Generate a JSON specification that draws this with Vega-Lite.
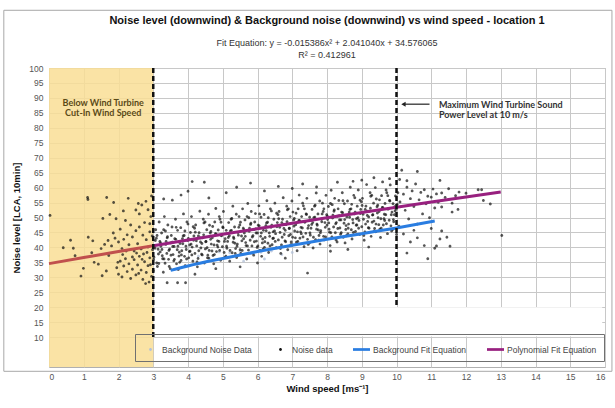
{
"$schema": "https://vega.github.io/schema/vega-lite/v6.json",
"width": 556, "height": 299,
"autosize": "none",
"padding": {"left": 49, "top": 68, "right": 10, "bottom": 41},
"background": "white",
"title": {"text": "Noise level (downwind) & Background noise (downwind) vs wind speed - location 1",
 "subtitle": ["Fit Equation: y = -0.015386x² + 2.041040x + 34.576065", "R² = 0.412961"],
 "anchor": "middle", "frame": "group", "font": "Liberation Sans", "fontSize": 11, "fontWeight": "bold", "color": "#111",
 "subtitleFont": "Liberation Sans", "subtitleFontSize": 9, "subtitleColor": "#333", "subtitleLineHeight": 12, "subtitlePadding": 13, "offset": -50},
"datasets": {
"noise": [
{"x":3.00,"y":32.2},{"x":3.04,"y":40.6},{"x":3.07,"y":45.9},{"x":3.02,"y":36.7},{"x":3.09,"y":43.1},
{"x":3.10,"y":34.8},{"x":3.14,"y":39.4},{"x":3.17,"y":48.5},{"x":3.12,"y":33.6},{"x":3.19,"y":42.0},
{"x":3.20,"y":38.5},{"x":3.24,"y":44.8},{"x":3.27,"y":36.2},{"x":3.22,"y":40.4},{"x":3.29,"y":31.7},
{"x":3.30,"y":45.9},{"x":3.34,"y":34.7},{"x":3.37,"y":42.0},{"x":3.32,"y":50.3},{"x":3.39,"y":38.0},
{"x":3.40,"y":43.2},{"x":3.44,"y":36.0},{"x":3.47,"y":39.4},{"x":3.42,"y":47.5},{"x":3.49,"y":32.9},
{"x":3.50,"y":41.5},{"x":3.54,"y":46.8},{"x":3.57,"y":37.6},{"x":3.52,"y":44.0},{"x":3.59,"y":35.5},
{"x":3.60,"y":40.3},{"x":3.64,"y":49.4},{"x":3.67,"y":34.5},{"x":3.62,"y":42.9},{"x":3.69,"y":39.2},
{"x":3.70,"y":45.7},{"x":3.74,"y":37.1},{"x":3.77,"y":41.3},{"x":3.72,"y":32.6},{"x":3.79,"y":46.6},
{"x":3.80,"y":35.6},{"x":3.84,"y":42.9},{"x":3.87,"y":51.2},{"x":3.82,"y":38.9},{"x":3.89,"y":44.0},
{"x":3.90,"y":37.0},{"x":3.94,"y":40.4},{"x":3.97,"y":48.5},{"x":3.92,"y":33.9},{"x":3.99,"y":42.3},
{"x":4.00,"y":47.8},{"x":4.04,"y":38.6},{"x":4.07,"y":45.0},{"x":4.02,"y":36.5},{"x":4.09,"y":41.1},
{"x":4.10,"y":50.3},{"x":4.14,"y":35.4},{"x":4.17,"y":43.8},{"x":4.12,"y":40.1},{"x":4.19,"y":46.4},
{"x":4.20,"y":38.0},{"x":4.24,"y":42.2},{"x":4.27,"y":33.5},{"x":4.22,"y":47.5},{"x":4.29,"y":36.3},
{"x":4.30,"y":43.8},{"x":4.34,"y":52.1},{"x":4.37,"y":39.8},{"x":4.32,"y":44.9},{"x":4.39,"y":37.7},
{"x":4.40,"y":41.3},{"x":4.44,"y":49.4},{"x":4.47,"y":34.8},{"x":4.42,"y":43.2},{"x":4.49,"y":48.5},
{"x":4.50,"y":39.5},{"x":4.54,"y":45.9},{"x":4.57,"y":37.4},{"x":4.52,"y":42.0},{"x":4.59,"y":51.1},
{"x":4.60,"y":36.4},{"x":4.64,"y":44.8},{"x":4.67,"y":41.1},{"x":4.62,"y":47.4},{"x":4.69,"y":38.8},
{"x":4.70,"y":43.2},{"x":4.74,"y":34.5},{"x":4.77,"y":48.5},{"x":4.72,"y":37.3},{"x":4.79,"y":44.6},
{"x":4.80,"y":53.0},{"x":4.84,"y":40.7},{"x":4.87,"y":45.8},{"x":4.82,"y":38.6},{"x":4.89,"y":42.0},
{"x":4.90,"y":50.3},{"x":4.94,"y":35.7},{"x":4.97,"y":44.1},{"x":4.92,"y":49.4},{"x":4.99,"y":40.2},
{"x":5.00,"y":46.8},{"x":5.04,"y":38.3},{"x":5.07,"y":42.9},{"x":5.02,"y":52.0},{"x":5.09,"y":37.1},
{"x":5.10,"y":45.7},{"x":5.14,"y":42.0},{"x":5.17,"y":48.3},{"x":5.12,"y":39.7},{"x":5.19,"y":43.9},
{"x":5.20,"y":35.4},{"x":5.24,"y":49.4},{"x":5.27,"y":38.2},{"x":5.22,"y":45.5},{"x":5.29,"y":53.8},
{"x":5.30,"y":41.7},{"x":5.34,"y":46.8},{"x":5.37,"y":39.6},{"x":5.32,"y":43.0},{"x":5.39,"y":51.1},
{"x":5.40,"y":36.6},{"x":5.44,"y":45.0},{"x":5.47,"y":50.3},{"x":5.42,"y":41.1},{"x":5.49,"y":47.5},
{"x":5.50,"y":39.2},{"x":5.54,"y":43.8},{"x":5.57,"y":52.9},{"x":5.52,"y":38.0},{"x":5.59,"y":46.4},
{"x":5.60,"y":42.9},{"x":5.64,"y":49.2},{"x":5.67,"y":40.6},{"x":5.62,"y":44.8},{"x":5.69,"y":36.1},
{"x":5.70,"y":50.3},{"x":5.74,"y":39.1},{"x":5.77,"y":46.4},{"x":5.72,"y":54.7},{"x":5.79,"y":42.4},
{"x":5.80,"y":47.7},{"x":5.84,"y":40.5},{"x":5.87,"y":43.9},{"x":5.82,"y":52.0},{"x":5.89,"y":37.4},
{"x":5.90,"y":46.0},{"x":5.94,"y":51.3},{"x":5.97,"y":42.1},{"x":5.92,"y":48.5},{"x":5.99,"y":40.0},
{"x":6.00,"y":44.8},{"x":6.04,"y":53.9},{"x":6.07,"y":39.0},{"x":6.02,"y":47.4},{"x":6.09,"y":43.7},
{"x":6.10,"y":50.1},{"x":6.14,"y":41.5},{"x":6.17,"y":45.7},{"x":6.12,"y":37.0},{"x":6.19,"y":51.0},
{"x":6.20,"y":40.0},{"x":6.24,"y":47.3},{"x":6.27,"y":55.6},{"x":6.22,"y":43.3},{"x":6.29,"y":48.4},
{"x":6.30,"y":41.4},{"x":6.34,"y":44.8},{"x":6.37,"y":52.9},{"x":6.32,"y":38.3},{"x":6.39,"y":46.7},
{"x":6.40,"y":52.2},{"x":6.44,"y":43.0},{"x":6.47,"y":49.4},{"x":6.42,"y":40.9},{"x":6.49,"y":45.5},
{"x":6.50,"y":54.8},{"x":6.54,"y":39.9},{"x":6.57,"y":48.3},{"x":6.52,"y":44.6},{"x":6.59,"y":50.9},
{"x":6.60,"y":42.5},{"x":6.64,"y":46.7},{"x":6.67,"y":38.0},{"x":6.62,"y":52.0},{"x":6.69,"y":40.8},
{"x":6.70,"y":48.3},{"x":6.74,"y":56.6},{"x":6.77,"y":44.3},{"x":6.72,"y":49.4},{"x":6.79,"y":42.2},
{"x":6.80,"y":45.7},{"x":6.84,"y":53.8},{"x":6.87,"y":39.2},{"x":6.82,"y":47.6},{"x":6.89,"y":52.9},
{"x":6.90,"y":43.9},{"x":6.94,"y":50.3},{"x":6.97,"y":41.8},{"x":6.92,"y":46.4},{"x":6.99,"y":55.5},
{"x":7.00,"y":40.8},{"x":7.04,"y":49.2},{"x":7.07,"y":45.5},{"x":7.02,"y":51.8},{"x":7.09,"y":43.2},
{"x":7.10,"y":47.6},{"x":7.14,"y":38.9},{"x":7.17,"y":52.9},{"x":7.12,"y":41.7},{"x":7.19,"y":49.0},
{"x":7.20,"y":57.5},{"x":7.24,"y":45.2},{"x":7.27,"y":50.3},{"x":7.22,"y":43.1},{"x":7.29,"y":46.5},
{"x":7.30,"y":54.8},{"x":7.34,"y":40.2},{"x":7.37,"y":48.6},{"x":7.32,"y":53.9},{"x":7.39,"y":44.7},
{"x":7.40,"y":51.2},{"x":7.44,"y":42.7},{"x":7.47,"y":47.3},{"x":7.42,"y":56.4},{"x":7.49,"y":41.5},
{"x":7.50,"y":50.1},{"x":7.54,"y":46.4},{"x":7.57,"y":52.7},{"x":7.52,"y":44.1},{"x":7.59,"y":48.3},
{"x":7.60,"y":39.8},{"x":7.64,"y":53.8},{"x":7.67,"y":42.6},{"x":7.62,"y":49.9},{"x":7.69,"y":58.2},
{"x":7.70,"y":46.1},{"x":7.74,"y":51.2},{"x":7.77,"y":44.0},{"x":7.72,"y":47.4},{"x":7.79,"y":55.5},
{"x":7.80,"y":41.1},{"x":7.84,"y":49.5},{"x":7.87,"y":54.8},{"x":7.82,"y":45.6},{"x":7.89,"y":52.0},
{"x":7.90,"y":43.7},{"x":7.94,"y":48.3},{"x":7.97,"y":57.4},{"x":7.92,"y":42.5},{"x":7.99,"y":50.9},
{"x":8.00,"y":47.4},{"x":8.04,"y":53.7},{"x":8.07,"y":45.1},{"x":8.02,"y":49.3},{"x":8.09,"y":40.6},
{"x":8.10,"y":54.7},{"x":8.14,"y":43.5},{"x":8.17,"y":50.8},{"x":8.12,"y":59.1},{"x":8.19,"y":46.8},
{"x":8.20,"y":52.1},{"x":8.24,"y":44.9},{"x":8.27,"y":48.3},{"x":8.22,"y":56.4},{"x":8.29,"y":41.8},
{"x":8.30,"y":50.4},{"x":8.34,"y":55.7},{"x":8.37,"y":46.5},{"x":8.32,"y":52.9},{"x":8.39,"y":44.4},
{"x":8.40,"y":49.2},{"x":8.44,"y":58.3},{"x":8.47,"y":43.4},{"x":8.42,"y":51.8},{"x":8.49,"y":48.1},
{"x":8.50,"y":54.6},{"x":8.54,"y":46.0},{"x":8.57,"y":50.2},{"x":8.52,"y":41.5},{"x":8.59,"y":55.5},
{"x":8.60,"y":44.5},{"x":8.64,"y":51.8},{"x":8.67,"y":60.1},{"x":8.62,"y":47.8},{"x":8.69,"y":52.9},
{"x":8.70,"y":45.9},{"x":8.74,"y":49.3},{"x":8.77,"y":57.4},{"x":8.72,"y":42.8},{"x":8.79,"y":51.2},
{"x":8.80,"y":56.6},{"x":8.84,"y":47.4},{"x":8.87,"y":53.8},{"x":8.82,"y":45.3},{"x":8.89,"y":49.9},
{"x":8.90,"y":59.2},{"x":8.94,"y":44.3},{"x":8.97,"y":52.7},{"x":8.92,"y":49.0},{"x":8.99,"y":55.3},
{"x":9.00,"y":46.9},{"x":9.04,"y":51.1},{"x":9.07,"y":42.4},{"x":9.02,"y":56.4},{"x":9.09,"y":45.2},
{"x":9.10,"y":52.7},{"x":9.14,"y":61.0},{"x":9.17,"y":48.7},{"x":9.12,"y":53.8},{"x":9.19,"y":46.6},
{"x":9.20,"y":50.2},{"x":9.24,"y":58.3},{"x":9.27,"y":43.7},{"x":9.22,"y":52.1},{"x":9.29,"y":57.4},
{"x":9.30,"y":48.4},{"x":9.34,"y":54.8},{"x":9.37,"y":46.3},{"x":9.32,"y":50.9},{"x":9.39,"y":60.0},
{"x":9.40,"y":45.2},{"x":9.44,"y":53.6},{"x":9.47,"y":49.9},{"x":9.42,"y":56.2},{"x":9.49,"y":47.6},
{"x":9.50,"y":52.0},{"x":9.54,"y":43.3},{"x":9.57,"y":57.3},{"x":9.52,"y":46.1},{"x":9.59,"y":53.4},
{"x":9.60,"y":61.9},{"x":9.64,"y":49.6},{"x":9.67,"y":54.7},{"x":9.62,"y":47.5},{"x":9.69,"y":50.9},
{"x":9.70,"y":59.2},{"x":9.74,"y":44.6},{"x":9.77,"y":53.0},{"x":9.72,"y":58.3},{"x":9.79,"y":49.1},
{"x":9.80,"y":55.7},{"x":9.84,"y":47.2},{"x":9.87,"y":51.8},{"x":9.82,"y":60.9},{"x":9.89,"y":46.0},
{"x":9.90,"y":54.6},{"x":9.94,"y":50.9},{"x":9.97,"y":57.2},{"x":9.92,"y":48.6},{"x":9.99,"y":52.8},
{"x":10.00,"y":44.3},{"x":10.04,"y":58.3},{"x":10.07,"y":47.1},{"x":10.02,"y":54.4},{"x":10.09,"y":62.7},
{"x":3.05,"y":39.7},{"x":3.01,"y":36.0},{"x":3.06,"y":42.3},{"x":3.15,"y":37.8},{"x":3.11,"y":44.0},{"x":3.16,"y":34.6},
{"x":3.25,"y":39.3},{"x":3.21,"y":41.5},{"x":3.26,"y":37.2},{"x":3.35,"y":45.5},{"x":3.31,"y":36.1},{"x":3.36,"y":41.0},
{"x":3.45,"y":39.0},{"x":3.41,"y":43.6},{"x":3.46,"y":33.6},{"x":3.55,"y":41.7},{"x":3.51,"y":37.4},{"x":3.56,"y":40.3},
{"x":3.65,"y":42.7},{"x":3.61,"y":36.0},{"x":3.66,"y":46.7},{"x":3.75,"y":38.4},{"x":3.71,"y":40.4},{"x":3.76,"y":35.0},
{"x":3.85,"y":41.2},{"x":3.81,"y":37.5},{"x":3.86,"y":43.8},{"x":3.95,"y":39.3},{"x":3.91,"y":45.5},{"x":3.96,"y":36.1},
{"x":4.05,"y":40.8},{"x":4.01,"y":43.0},{"x":4.06,"y":38.7},{"x":4.15,"y":46.9},{"x":4.11,"y":37.5},{"x":4.16,"y":42.4},
{"x":4.25,"y":40.5},{"x":4.21,"y":45.1},{"x":4.26,"y":35.1},{"x":4.35,"y":43.2},{"x":4.31,"y":38.9},{"x":4.36,"y":41.8},
{"x":4.45,"y":44.2},{"x":4.41,"y":37.5},{"x":4.46,"y":48.2},{"x":4.55,"y":39.9},{"x":4.51,"y":41.9},{"x":4.56,"y":36.5},
{"x":4.65,"y":42.7},{"x":4.61,"y":39.0},{"x":4.66,"y":45.3},{"x":4.75,"y":40.8},{"x":4.71,"y":47.0},{"x":4.76,"y":37.6},
{"x":4.85,"y":42.2},{"x":4.81,"y":44.4},{"x":4.86,"y":40.1},{"x":4.95,"y":48.4},{"x":4.91,"y":39.0},{"x":4.96,"y":43.9},
{"x":5.05,"y":42.0},{"x":5.01,"y":46.6},{"x":5.06,"y":36.6},{"x":5.15,"y":44.7},{"x":5.11,"y":40.4},{"x":5.16,"y":43.3},
{"x":5.25,"y":45.7},{"x":5.21,"y":39.0},{"x":5.26,"y":49.7},{"x":5.35,"y":41.4},{"x":5.31,"y":43.4},{"x":5.36,"y":38.0},
{"x":5.45,"y":44.1},{"x":5.41,"y":40.4},{"x":5.46,"y":46.7},{"x":5.55,"y":42.2},{"x":5.51,"y":48.4},{"x":5.56,"y":39.0},
{"x":5.65,"y":43.7},{"x":5.61,"y":45.9},{"x":5.66,"y":41.6},{"x":5.75,"y":49.9},{"x":5.71,"y":40.5},{"x":5.76,"y":45.4},
{"x":5.85,"y":43.5},{"x":5.81,"y":48.1},{"x":5.86,"y":38.1},{"x":5.95,"y":46.2},{"x":5.91,"y":41.9},{"x":5.96,"y":44.8},
{"x":6.05,"y":47.2},{"x":6.01,"y":40.5},{"x":6.06,"y":51.2},{"x":6.15,"y":42.8},{"x":6.11,"y":44.8},{"x":6.16,"y":39.4},
{"x":6.25,"y":45.6},{"x":6.21,"y":41.9},{"x":6.26,"y":48.2},{"x":6.35,"y":43.7},{"x":6.31,"y":49.9},{"x":6.36,"y":40.5},
{"x":6.45,"y":45.2},{"x":6.41,"y":47.4},{"x":6.46,"y":43.1},{"x":6.55,"y":51.4},{"x":6.51,"y":42.0},{"x":6.56,"y":46.9},
{"x":6.65,"y":45.0},{"x":6.61,"y":49.6},{"x":6.66,"y":39.6},{"x":6.75,"y":47.7},{"x":6.71,"y":43.4},{"x":6.76,"y":46.3},
{"x":6.85,"y":48.6},{"x":6.81,"y":41.9},{"x":6.86,"y":52.6},{"x":6.95,"y":44.3},{"x":6.91,"y":46.3},{"x":6.96,"y":40.9},
{"x":7.05,"y":47.1},{"x":7.01,"y":43.4},{"x":7.06,"y":49.7},{"x":7.15,"y":45.2},{"x":7.11,"y":51.4},{"x":7.16,"y":42.0},
{"x":7.25,"y":46.7},{"x":7.21,"y":48.9},{"x":7.26,"y":44.6},{"x":7.35,"y":52.9},{"x":7.31,"y":43.5},{"x":7.36,"y":48.4},
{"x":7.45,"y":46.4},{"x":7.41,"y":51.0},{"x":7.46,"y":41.0},{"x":7.55,"y":49.1},{"x":7.51,"y":44.8},{"x":7.56,"y":47.7},
{"x":7.65,"y":50.1},{"x":7.61,"y":43.4},{"x":7.66,"y":54.1},{"x":7.75,"y":45.8},{"x":7.71,"y":47.8},{"x":7.76,"y":42.4},
{"x":7.85,"y":48.6},{"x":7.81,"y":44.9},{"x":7.86,"y":51.2},{"x":7.95,"y":46.7},{"x":7.91,"y":52.9},{"x":7.96,"y":43.5},
{"x":8.05,"y":48.2},{"x":8.01,"y":50.4},{"x":8.06,"y":46.1},{"x":8.15,"y":54.3},{"x":8.11,"y":44.9},{"x":8.16,"y":49.8},
{"x":8.25,"y":47.9},{"x":8.21,"y":52.5},{"x":8.26,"y":42.5},{"x":8.35,"y":50.6},{"x":8.31,"y":46.3},{"x":8.36,"y":49.2},
{"x":8.45,"y":51.6},{"x":8.41,"y":44.9},{"x":8.46,"y":55.6},{"x":8.55,"y":47.3},{"x":8.51,"y":49.3},{"x":8.56,"y":43.9},
{"x":8.65,"y":50.1},{"x":8.61,"y":46.4},{"x":8.66,"y":52.7},{"x":8.75,"y":48.2},{"x":8.71,"y":54.4},{"x":8.76,"y":45.0},
{"x":8.85,"y":49.6},{"x":8.81,"y":51.8},{"x":8.86,"y":47.5},{"x":8.95,"y":55.8},{"x":8.91,"y":46.4},{"x":8.96,"y":51.3},
{"x":9.05,"y":49.4},{"x":9.01,"y":54.0},{"x":9.06,"y":44.0},{"x":9.15,"y":52.1},{"x":9.11,"y":47.8},{"x":9.16,"y":50.7},
{"x":9.25,"y":53.1},{"x":9.21,"y":46.4},{"x":9.26,"y":57.1},{"x":9.35,"y":48.8},{"x":9.31,"y":50.8},{"x":9.36,"y":45.4},
{"x":9.45,"y":51.5},{"x":9.41,"y":47.8},{"x":9.46,"y":54.1},{"x":9.55,"y":49.6},{"x":9.51,"y":55.9},{"x":9.56,"y":46.4},
{"x":9.65,"y":51.1},{"x":9.61,"y":53.3},{"x":9.66,"y":49.0},{"x":9.75,"y":57.3},{"x":9.71,"y":47.9},{"x":9.76,"y":52.8},
{"x":9.85,"y":50.9},{"x":9.81,"y":55.5},{"x":9.86,"y":45.5},{"x":9.95,"y":53.6},{"x":9.91,"y":49.3},{"x":9.96,"y":52.2},
{"x":0.03,"y":50.7},{"x":0.41,"y":39.9},{"x":0.62,"y":42.4},{"x":0.7,"y":39.7},{"x":0.75,"y":37.2},{"x":0.99,"y":33.0},{"x":0.92,"y":30.4},
{"x":1.13,"y":43.4},{"x":1.11,"y":56.7},{"x":1.12,"y":56.0},{"x":1.26,"y":42.2},{"x":1.23,"y":38.2},{"x":1.3,"y":35.0},{"x":1.42,"y":34.4},
{"x":1.5,"y":39.6},{"x":1.53,"y":30.5},{"x":1.66,"y":56.7},{"x":1.75,"y":51.0},{"x":1.55,"y":49.7},{"x":1.86,"y":55.0},{"x":1.93,"y":49.6},
{"x":2.28,"y":56.4},{"x":2.14,"y":52.2},{"x":2.57,"y":54.7},{"x":2.67,"y":54.2},{"x":2.79,"y":55.4},{"x":2.95,"y":57.2},
{"x":1.6,"y":41.0},{"x":1.7,"y":42.3},{"x":1.8,"y":40.5},{"x":1.9,"y":43.1},{"x":2.0,"y":41.8},{"x":2.1,"y":39.6},{"x":2.15,"y":42.7},
{"x":2.25,"y":44.2},{"x":2.3,"y":40.9},{"x":2.4,"y":43.5},{"x":2.45,"y":38.8},{"x":2.5,"y":45.6},{"x":2.55,"y":41.2},{"x":2.6,"y":46.8},
{"x":2.65,"y":39.5},{"x":2.7,"y":44.1},{"x":2.75,"y":48.3},{"x":2.8,"y":42.6},{"x":2.85,"y":40.1},{"x":2.9,"y":45.2},{"x":2.93,"y":50.3},
{"x":2.97,"y":43.8},{"x":2.35,"y":47.5},{"x":2.05,"y":46.1},{"x":2.2,"y":49.0},{"x":2.6,"y":51.2},{"x":2.85,"y":52.6},{"x":1.85,"y":44.8},
{"x":2.5,"y":52.5},{"x":2.9,"y":47.9},{"x":2.72,"y":37.8},{"x":2.98,"y":39.2},
{"x":1.95,"y":33.2},{"x":2.0,"y":31.0},{"x":2.05,"y":35.4},{"x":2.1,"y":30.1},{"x":2.15,"y":33.8},{"x":2.2,"y":36.2},{"x":2.25,"y":31.9},
{"x":2.3,"y":34.5},{"x":2.35,"y":29.6},{"x":2.4,"y":32.7},{"x":2.45,"y":35.9},{"x":2.5,"y":30.8},{"x":2.55,"y":34.1},{"x":2.6,"y":37.0},
{"x":2.65,"y":32.4},{"x":2.7,"y":29.3},{"x":2.75,"y":35.2},{"x":2.8,"y":31.6},{"x":2.85,"y":33.9},{"x":2.9,"y":36.5},{"x":2.95,"y":30.3},
{"x":2.88,"y":28.4},{"x":2.78,"y":27.9},{"x":2.4,"y":36.8},{"x":2.12,"y":37.6},{"x":1.98,"y":35.0},{"x":2.58,"y":31.3},{"x":2.68,"y":36.0},
{"x":2.92,"y":34.2},{"x":2.82,"y":38.3},{"x":2.52,"y":38.1},{"x":2.22,"y":38.8},{"x":1.72,"y":37.3},{"x":1.65,"y":32.1},
{"x":4.12,"y":62.0},{"x":4.47,"y":61.8},{"x":3.93,"y":28.2},{"x":3.4,"y":28.2},{"x":3.7,"y":28.2},{"x":4.2,"y":31.0},{"x":3.3,"y":56.2},
{"x":3.55,"y":55.8},{"x":3.8,"y":57.5},{"x":4.0,"y":58.8},{"x":4.6,"y":56.5},{"x":5.1,"y":58.3},{"x":5.4,"y":60.1},{"x":5.8,"y":61.5},
{"x":6.2,"y":58.9},{"x":6.6,"y":60.4},{"x":7.0,"y":59.7},{"x":7.3,"y":61.2},{"x":7.7,"y":60.2},{"x":8.3,"y":61.8},{"x":8.75,"y":62.1},
{"x":9.0,"y":62.5},{"x":9.35,"y":63.3},{"x":9.8,"y":63.0},{"x":10.15,"y":65.8},{"x":10.6,"y":65.4},{"x":10.3,"y":62.3},{"x":7.44,"y":31.4},
{"x":5.5,"y":33.5},{"x":6.0,"y":34.8},{"x":4.8,"y":32.9},{"x":6.8,"y":36.4},{"x":8.1,"y":38.7},{"x":9.2,"y":40.1},{"x":8.6,"y":39.3},
{"x":10.1,"y":55.2},{"x":10.2,"y":57.8},{"x":10.25,"y":52.4},{"x":10.3,"y":60.1},{"x":10.35,"y":49.5},{"x":10.4,"y":56.3},{"x":10.45,"y":58.9},
{"x":10.5,"y":53.7},{"x":10.55,"y":61.2},{"x":10.6,"y":47.8},{"x":10.65,"y":55.9},{"x":10.7,"y":58.4},{"x":10.75,"y":51.2},{"x":10.8,"y":59.3},
{"x":10.85,"y":54.6},{"x":10.9,"y":57.1},{"x":10.95,"y":49.9},{"x":11.0,"y":56.8},{"x":11.05,"y":59.5},{"x":11.1,"y":53.2},{"x":11.15,"y":57.9},
{"x":11.2,"y":55.1},{"x":11.3,"y":58.2},{"x":11.4,"y":56.7},{"x":11.5,"y":59.6},{"x":11.6,"y":54.8},{"x":11.7,"y":57.3},{"x":11.8,"y":58.5},
{"x":12.0,"y":58.1},{"x":12.35,"y":59.3},{"x":12.45,"y":59.3},{"x":12.5,"y":55.7},{"x":12.7,"y":54.5},{"x":13.03,"y":44.0},{"x":10.2,"y":44.5},
{"x":10.4,"y":41.8},{"x":10.6,"y":43.2},{"x":10.8,"y":40.6},{"x":11.1,"y":39.7},{"x":11.25,"y":42.8},{"x":10.3,"y":38.1},{"x":11.0,"y":46.3},
{"x":10.5,"y":45.7},{"x":11.3,"y":53.5},{"x":11.6,"y":51.8},{"x":11.25,"y":62.4},{"x":11.77,"y":52.7},{"x":11.3,"y":45.5},{"x":11.45,"y":43.4},
{"x":11.54,"y":40.4},{"x":10.9,"y":36.2},{"x":11.15,"y":40.5}
],
"bgd": [{"x":4.3,"y":37.1},{"x":4.9,"y":38.5},{"x":5.2,"y":38.2},{"x":5.5,"y":38.6},{"x":5.6,"y":35.4},{"x":5.8,"y":37.9},{"x":6.1,"y":38.4},{"x":6.2,"y":36.1},{"x":6.4,"y":38.8},{"x":6.7,"y":37.6},{"x":7.0,"y":38.3}],
"polyL": [{"x":0,"y":34.576},{"x":1,"y":36.602},{"x":2,"y":38.597},{"x":3,"y":40.561}],
"poly": [{"x":3,"y":40.561},{"x":4,"y":42.494},{"x":5,"y":44.396},{"x":6,"y":46.268},{"x":7,"y":48.109},{"x":8,"y":49.919},{"x":9,"y":51.699},{"x":10,"y":53.447},{"x":11,"y":55.165},{"x":12,"y":56.852},{"x":13,"y":58.510}],
"bgfit": [{"x":3.5,"y":32.3},{"x":4,"y":33.8},{"x":5,"y":36.3},{"x":6,"y":38.6},{"x":7,"y":40.7},{"x":8,"y":42.7},{"x":9,"y":44.6},{"x":10,"y":46.5},{"x":11.1,"y":48.8}]
},
"layer": [
{"data": {"values": [{}]}, "mark": {"type": "rect", "fill": null, "stroke": "#a8a8a8", "strokeWidth": 1},
 "encoding": {"x": {"datum": -1.3, "type": "quantitative", "axis": {"title": "Wind speed [ms⁻¹]", "values": [0,1,2,3,4,5,6,7,8,9,10,11,12,13,14,15,16]}}, "x2": {"datum": 16.2},
  "y": {"datum": 119.3, "type": "quantitative", "axis": {"title": "Noise level [LCA, 10min]", "values": [10,15,20,25,30,35,40,45,50,55,60,65,70,75,80,85,90,95,100]}}, "y2": {"datum": -1.44}}},
{"data": {"values": [{}]}, "mark": {"type": "rect", "fill": "white"},
 "encoding": {"x": {"datum": 3, "type": "quantitative", "axis": {"title": "Wind speed [ms⁻¹]", "values": [0,1,2,3,4,5,6,7,8,9,10,11,12,13,14,15,16]}}, "x2": {"datum": 15.92},
  "y": {"datum": 20, "type": "quantitative", "axis": {"title": "Noise level [LCA, 10min]", "values": [10,15,20,25,30,35,40,45,50,55,60,65,70,75,80,85,90,95,100]}}, "y2": {"datum": 10.2}}},
{"data": {"values": [{}]}, "mark": {"type": "rect", "fill": "#f9de95", "opacity": 0.85},
 "encoding": {"x": {"datum": 0, "type": "quantitative", "axis": {"title": "Wind speed [ms⁻¹]", "values": [0,1,2,3,4,5,6,7,8,9,10,11,12,13,14,15,16]}}, "x2": {"datum": 3}}},
{"data": {"name": "bgd"}, "mark": {"type": "point", "filled": true, "size": 289, "opacity": 0.8},
 "encoding": {"x": {"field": "x", "type": "quantitative", "axis": {"title": "Wind speed [ms⁻¹]", "values": [0,1,2,3,4,5,6,7,8,9,10,11,12,13,14,15,16]}},
  "y": {"field": "y", "type": "quantitative", "axis": {"title": "Noise level [LCA, 10min]", "values": [10,15,20,25,30,35,40,45,50,55,60,65,70,75,80,85,90,95,100]}},
  "color": {"datum": "Background Noise Data", "type": "nominal",
   "scale": {"domain": ["Background Noise Data", "Noise data", "Background Fit Equation", "Polynomial Fit Equation"], "range": ["#b4c2d8", "#151515", "#2a7de1", "#98207f"]},
   "legend": {"orient": "none", "legendX": 86, "legendY": 266, "direction": "horizontal", "title": null}},
  "shape": {"datum": "Background Noise Data", "type": "nominal",
   "scale": {"domain": ["Background Noise Data", "Noise data", "Background Fit Equation", "Polynomial Fit Equation"],
    "range": ["M-0.17,0A0.17,0.17 0 1,0 0.17,0A0.17,0.17 0 1,0 -0.17,0Z", "M-0.17,0A0.17,0.17 0 1,0 0.17,0A0.17,0.17 0 1,0 -0.17,0Z", "M-1,-0.16H1V0.16H-1Z", "M-1,-0.16H1V0.16H-1Z"]},
   "legend": {"orient": "none", "legendX": 86, "legendY": 266, "direction": "horizontal", "title": null}}}},
{"data": {"name": "noise"}, "mark": {"type": "point", "filled": true, "size": 289, "opacity": 0.72},
 "encoding": {
  "x": {"field": "x", "type": "quantitative", "scale": {"domain": [0, 16], "nice": false},
   "axis": {"title": "Wind speed [ms⁻¹]", "values": [0,1,2,3,4,5,6,7,8,9,10,11,12,13,14,15,16], "labelPadding": 5, "titlePadding": 3}},
  "y": {"field": "y", "type": "quantitative", "scale": {"domain": [10, 100], "nice": false},
   "axis": {"title": "Noise level [LCA, 10min]", "values": [10,15,20,25,30,35,40,45,50,55,60,65,70,75,80,85,90,95,100], "labelPadding": 6, "titlePadding": 7}},
  "color": {"datum": "Noise data", "type": "nominal"}, "shape": {"datum": "Noise data", "type": "nominal"}}},
{"data": {"name": "polyL"}, "mark": {"type": "line", "color": "#c0504d", "strokeWidth": 3},
 "encoding": {"x": {"field": "x", "type": "quantitative", "axis": {"title": "Wind speed [ms⁻¹]", "values": [0,1,2,3,4,5,6,7,8,9,10,11,12,13,14,15,16]}},
  "y": {"field": "y", "type": "quantitative", "axis": {"title": "Noise level [LCA, 10min]", "values": [10,15,20,25,30,35,40,45,50,55,60,65,70,75,80,85,90,95,100]}}}},
{"data": {"name": "poly"}, "mark": {"type": "line", "strokeWidth": 3},
 "encoding": {"x": {"field": "x", "type": "quantitative", "axis": {"title": "Wind speed [ms⁻¹]", "values": [0,1,2,3,4,5,6,7,8,9,10,11,12,13,14,15,16]}},
  "y": {"field": "y", "type": "quantitative", "axis": {"title": "Noise level [LCA, 10min]", "values": [10,15,20,25,30,35,40,45,50,55,60,65,70,75,80,85,90,95,100]}},
  "color": {"datum": "Polynomial Fit Equation", "type": "nominal"}}},
{"data": {"name": "bgfit"}, "mark": {"type": "line", "strokeWidth": 3, "interpolate": "monotone"},
 "encoding": {"x": {"field": "x", "type": "quantitative", "axis": {"title": "Wind speed [ms⁻¹]", "values": [0,1,2,3,4,5,6,7,8,9,10,11,12,13,14,15,16]}},
  "y": {"field": "y", "type": "quantitative", "axis": {"title": "Noise level [LCA, 10min]", "values": [10,15,20,25,30,35,40,45,50,55,60,65,70,75,80,85,90,95,100]}},
  "color": {"datum": "Background Fit Equation", "type": "nominal"}}},
{"data": {"values": [{"x": 3, "y1": 100, "y2": 10}, {"x": 10, "y1": 100, "y2": 20}]}, "mark": {"type": "rule", "color": "#111", "strokeWidth": 2.5, "strokeDash": [5, 3]},
 "encoding": {"x": {"field": "x", "type": "quantitative", "axis": {"title": "Wind speed [ms⁻¹]", "values": [0,1,2,3,4,5,6,7,8,9,10,11,12,13,14,15,16]}},
  "y": {"field": "y1", "type": "quantitative", "axis": {"title": "Noise level [LCA, 10min]", "values": [10,15,20,25,30,35,40,45,50,55,60,65,70,75,80,85,90,95,100]}}, "y2": {"field": "y2"}}},
{"data": {"values": [{"x": 10.2, "x2": 10.95, "y": 87.9}]}, "mark": {"type": "rule", "color": "#222", "strokeWidth": 1.2},
 "encoding": {"x": {"field": "x", "type": "quantitative", "axis": {"title": "Wind speed [ms⁻¹]", "values": [0,1,2,3,4,5,6,7,8,9,10,11,12,13,14,15,16]}}, "x2": {"field": "x2"},
  "y": {"field": "y", "type": "quantitative", "axis": {"title": "Noise level [LCA, 10min]", "values": [10,15,20,25,30,35,40,45,50,55,60,65,70,75,80,85,90,95,100]}}}},
{"data": {"values": [{"x": 10.2, "y": 87.9}]}, "mark": {"type": "point", "shape": "triangle-left", "filled": true, "color": "#222", "size": 25, "opacity": 1},
 "encoding": {"x": {"field": "x", "type": "quantitative", "axis": {"title": "Wind speed [ms⁻¹]", "values": [0,1,2,3,4,5,6,7,8,9,10,11,12,13,14,15,16]}},
  "y": {"field": "y", "type": "quantitative", "axis": {"title": "Noise level [LCA, 10min]", "values": [10,15,20,25,30,35,40,45,50,55,60,65,70,75,80,85,90,95,100]}}}},
{"data": {"values": [{"x": 1.56, "y": 88.4, "t": "Below Wind Turbine\nCut-In Wind Speed"}]}, "mark": {"type": "text", "font": "Lato", "fontWeight": "bold", "fontSize": 9, "color": "#5a4a18", "align": "center", "baseline": "middle", "lineBreak": "\n", "lineHeight": 10.5},
 "encoding": {"x": {"field": "x", "type": "quantitative", "axis": {"title": "Wind speed [ms⁻¹]", "values": [0,1,2,3,4,5,6,7,8,9,10,11,12,13,14,15,16]}},
  "y": {"field": "y", "type": "quantitative", "axis": {"title": "Noise level [LCA, 10min]", "values": [10,15,20,25,30,35,40,45,50,55,60,65,70,75,80,85,90,95,100]}}, "text": {"field": "t"}}},
{"data": {"values": [{"x": 11.22, "y": 87.6, "t": "Maximum Wind Turbine Sound\nPower Level at 10 m/s"}]}, "mark": {"type": "text", "font": "Lato", "fontWeight": "bold", "fontSize": 9, "color": "#333", "align": "left", "baseline": "middle", "lineBreak": "\n", "lineHeight": 10},
 "encoding": {"x": {"field": "x", "type": "quantitative", "axis": {"title": "Wind speed [ms⁻¹]", "values": [0,1,2,3,4,5,6,7,8,9,10,11,12,13,14,15,16]}},
  "y": {"field": "y", "type": "quantitative", "axis": {"title": "Noise level [LCA, 10min]", "values": [10,15,20,25,30,35,40,45,50,55,60,65,70,75,80,85,90,95,100]}}, "text": {"field": "t"}}}
],
"config": {
 "view": {"stroke": "#b0b0b0"},
 "axis": {"grid": true, "gridColor": "#c8c8c8", "domain": false, "ticks": false, "labelOverlap": false, "labelFont": "Liberation Sans", "labelFontSize": 8.5, "labelColor": "#555",
  "titleFont": "Liberation Sans", "titleFontSize": 9.5, "titleFontWeight": "bold", "titleColor": "#111"},
 "legend": {"labelFont": "Liberation Sans", "labelFontSize": 8.5, "labelColor": "#444", "symbolSize": 289, "symbolStrokeWidth": 0, "labelOffset": 3,
  "columnPadding": 20, "padding": 7, "strokeColor": "#707070", "symbolOpacity": 1}
}
}
